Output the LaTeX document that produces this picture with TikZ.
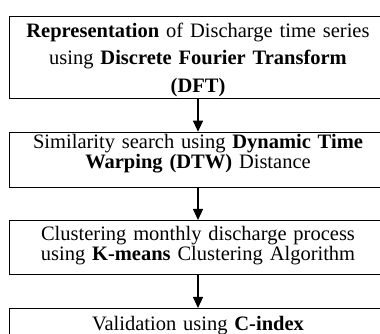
\documentclass[tikz,border=0pt]{standalone}
\usepackage{fontspec}
\setmainfont{Liberation Serif}
\usetikzlibrary{arrows.meta}
\tikzset{
	procbox/.style={draw, line width=0.9pt, minimum width=378pt, text width=370pt, align=center, inner sep=0pt, font=\fontsize{20.5}{20}\selectfont},
	flowarrow/.style={line width=1.2pt, -{Triangle[width=10pt,length=11pt]}}
}

\begin{document}
\begin{tikzpicture}[x=1pt,y=1pt]
		%%%%% START %%%%%
		
		\useasboundingbox (0, 0) rectangle (380, 334);
		\clip (0, 0) rectangle (380, 334);
		
		\node[procbox, text height=21pt, text depth=61pt, font=\fontsize{20.5}{27.5}\selectfont, anchor=north] (dft) at (198, 318)
			{\textbf{Representation} of Discharge time series\\ using \textbf{Discrete Fourier Transform}\\ \textbf{(DFT)}};
		\node[procbox, text height=16.5pt, text depth=38.5pt, anchor=north] (dtw) at (198, 202.3)
			{Similarity search using \textbf{Dynamic Time}\\ \textbf{Warping (DTW)} Distance};
		\node[procbox, text height=20pt, text depth=34.5pt, anchor=north] (kmeans) at (198, 114)
			{Clustering monthly discharge process\\ using \textbf{K-means} Clustering Algorithm};
		\node[procbox, text height=22pt, text depth=32pt, anchor=north] (cindex) at (198, 26)
			{Validation using \textbf{C-index}};
		
		\draw[flowarrow] (dft) -- (dtw);
		\draw[flowarrow] (dtw) -- (kmeans);
		\draw[flowarrow] (kmeans) -- (cindex);
		
		%%%%% END %%%%%
	\end{tikzpicture}
\end{document}
